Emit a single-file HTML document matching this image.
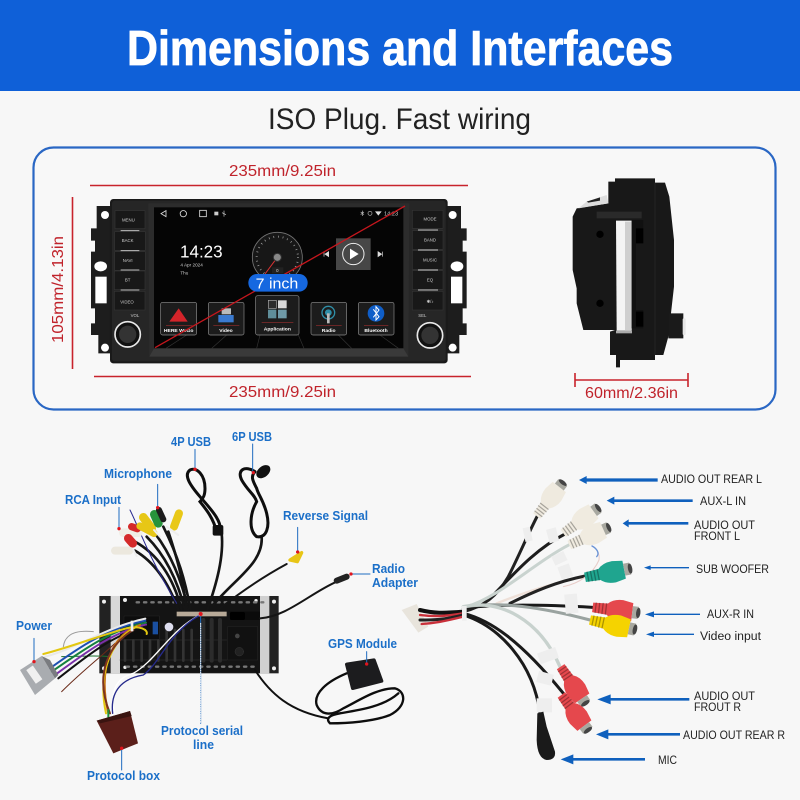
<!DOCTYPE html>
<html><head><meta charset="utf-8"><style>
html,body{margin:0;padding:0;background:#f7f7f7}
svg{display:block}
text{font-family:"Liberation Sans",sans-serif}
.b{fill:#1b6fc8;font-size:12.5px;font-weight:bold}
.k{fill:#222;font-size:11.5px}
.r{fill:#c0232b;font-size:16px}
.s{fill:#fff;font-size:15px;font-weight:bold}
</style></head><body>
<svg width="800" height="800" viewBox="0 0 800 800" xmlns="http://www.w3.org/2000/svg">
<defs>
<g id="rca">
<path d="M0 -11L34 -13Q46 -25 68 -25L92 -21V21L68 25Q46 25 34 13L0 11Z" fill="currentColor"/>
<path d="M7 -11V11M15 -11V11M23 -12V12M31 -12V12" stroke="#000" stroke-opacity=".3" stroke-width="3"/>
<rect x="92" y="-14" width="14" height="28" fill="#a8a8a0"/>
<ellipse cx="106" cy="0" rx="5" ry="12" fill="#444"/>
</g>
<g id="ear">
<path d="M100 78H50V145H33V182H45V215H33V385H45V430H33V465H55V520H100Z" fill="#1d1d1d"/>
<circle cx="75" cy="105" r="12" fill="#fff"/>
<circle cx="75" cy="503" r="12" fill="#fff"/>
<ellipse cx="62" cy="259" rx="19" ry="15" fill="#fff"/>
<rect x="46" y="290" width="34" height="80" fill="#fff"/>
</g>
</defs>

<rect width="800" height="800" fill="#f7f7f7"/>
<rect width="800" height="91" fill="#0f60d8"/>
<text x="127" y="65" textLength="546" lengthAdjust="spacingAndGlyphs" font-size="49" font-weight="bold" fill="#fff" stroke="#fff" stroke-width=".8">Dimensions and Interfaces</text>
<text x="268" y="129" textLength="263" lengthAdjust="spacingAndGlyphs" font-size="30" fill="#222">ISO Plug. Fast wiring</text>
<rect x="33.5" y="147.5" width="742" height="262" rx="20" fill="#f8f8f8" stroke="#2a67c4" stroke-width="2.2"/>

<!-- dimensions -->
<line x1="90" y1="185.5" x2="468" y2="185.5" stroke="#c8232c" stroke-width="1.6"/>
<line x1="94" y1="376.5" x2="471" y2="376.5" stroke="#c8232c" stroke-width="1.6"/>
<line x1="72.5" y1="197" x2="72.5" y2="369" stroke="#c8232c" stroke-width="1.6"/>
<text class="r" x="229" y="176" textLength="107" lengthAdjust="spacingAndGlyphs">235mm/9.25in</text>
<text class="r" x="229" y="397" textLength="107" lengthAdjust="spacingAndGlyphs">235mm/9.25in</text>
<text class="r" transform="translate(63,343) rotate(-90)" textLength="107" lengthAdjust="spacingAndGlyphs">105mm/4.13in</text>
<path d="M575 380H688M575 373V387M688 373V387" stroke="#c8232c" stroke-width="1.6" fill="none"/>
<text class="r" x="585" y="398" textLength="93" lengthAdjust="spacingAndGlyphs">60mm/2.36in</text>

<!-- head unit -->
<g transform="translate(80,180) scale(.33333)">
<use href="#ear"/>
<use href="#ear" transform="translate(1193,0) scale(-1,1)"/>
<rect x="90" y="57" width="1013" height="493" rx="10" fill="#1a1a1a"/>
<rect x="96" y="62" width="1001" height="482" rx="8" fill="#262626"/>
<path d="M205 70H988L985 530H208Z" fill="#2c2c2c"/>
<rect x="222" y="82" width="748" height="423" fill="#050505"/>
<path d="M222 505H970L985 530H208Z" fill="#3a3a3a"/>
<g fill="#181818" stroke="#333" stroke-width="2">
<rect x="105" y="92" width="90" height="54"/><rect x="104" y="155" width="92" height="56"/><rect x="104" y="215" width="92" height="56"/><rect x="103" y="273" width="92" height="56"/><rect x="103" y="334" width="92" height="56"/>
<rect x="997" y="91" width="92" height="54"/><rect x="997" y="152" width="92" height="56"/><rect x="997" y="212" width="92" height="56"/><rect x="997" y="272" width="92" height="56"/><rect x="997" y="334" width="92" height="56"/>
</g>
<path d="M122 152H178M122 212H178M122 270H178M122 330H178M1014 150H1074M1014 210H1074M1014 270H1074M1014 330H1074" stroke="#bbb" stroke-width="3"/>
<g font-size="13" fill="#ccc" text-anchor="middle">
<text x="145" y="124">MENU</text><text x="143" y="186">BACK</text><text x="143" y="246">NAVI</text><text x="143" y="305">BT</text><text x="141" y="370">VIDEO</text>
<text x="1050" y="121">MODE</text><text x="1050" y="184">BAND</text><text x="1050" y="244">MUSIC</text><text x="1050" y="305">EQ</text><text x="1050" y="369">&#10033;/&#9834;</text>
<text x="165" y="411">VOL</text><text x="1027" y="411">SEL</text>
</g>
<circle cx="143" cy="463" r="38" fill="#111" stroke="#e8e8e8" stroke-width="5"/>
<circle cx="143" cy="463" r="26" fill="#333"/>
<circle cx="1050" cy="466" r="38" fill="#111" stroke="#e8e8e8" stroke-width="5"/>
<circle cx="1050" cy="466" r="26" fill="#333"/>
<!-- status -->
<path d="M258 92L243 101L258 110Z" fill="none" stroke="#ddd" stroke-width="2.5"/>
<circle cx="310" cy="101" r="9.5" fill="none" stroke="#ddd" stroke-width="2.5"/>
<rect x="359" y="91" width="20" height="19" fill="none" stroke="#ddd" stroke-width="2.5"/>
<rect x="403" y="95" width="12" height="11" fill="#ccc"/>
<path d="M432 92V110M426 98L438 104" stroke="#ccc" stroke-width="2"/>
<path d="M847 92V108M842 96L852 104M842 104L852 96" stroke="#bbb" stroke-width="2"/>
<circle cx="870" cy="100" r="6" fill="none" stroke="#bbb" stroke-width="2"/>
<path d="M885 94H905L895 107Z" fill="#ddd"/>
<text x="912" y="107" font-size="17" fill="#ccc">14:23</text>
<text x="300" y="232" font-size="52" fill="#fff" textLength="128" lengthAdjust="spacingAndGlyphs">14:23</text>
<text x="301" y="259" font-size="14" fill="#ccc">4 Apr 2024</text>
<text x="301" y="284" font-size="14" fill="#ccc">Thu</text>
<!-- gauge -->
<circle cx="592" cy="232" r="75" fill="#171717" stroke="#777" stroke-width="2.5"/>
<circle cx="592" cy="232" r="62" fill="none" stroke="#aaa" stroke-width="6" stroke-dasharray="2 12"/>
<path d="M555 282L592 232" stroke="#d33" stroke-width="3"/>
<circle cx="592" cy="232" r="12" fill="#888" stroke="#333" stroke-width="3"/>
<rect x="576" y="262" width="34" height="18" fill="#222"/>
<text x="592" y="276" font-size="13" fill="#ddd" text-anchor="middle">0</text>
<!-- music -->
<rect x="768" y="175" width="104" height="95" fill="#474747"/>
<circle cx="820" cy="222" r="32" fill="none" stroke="#eee" stroke-width="3"/>
<path d="M810 206L836 222L810 238Z" fill="#fff"/>
<path d="M732 215V230M746 215L735 222.5L746 230Z M908 215V230M894 215L905 222.5L894 230Z" fill="#ddd" stroke="#ddd" stroke-width="2"/>
<!-- floor -->
<path d="M320 465L258 505M440 465L395 505M540 465L530 505M655 465L672 505M775 465L815 505M900 465L955 505" stroke="#333" stroke-width="2"/>
<!-- apps -->
<g stroke="#8a8a8a" stroke-width="2" fill="#1c1c1c">
<rect x="242" y="367" width="108" height="98" rx="6"/><rect x="385" y="367" width="107" height="98" rx="6"/><rect x="527" y="347" width="130" height="118" rx="6"/><rect x="693" y="367" width="107" height="98" rx="6"/><rect x="835" y="367" width="107" height="98" rx="6"/>
</g>
<path d="M296 385L323 425H268Z" fill="#d3242a"/>
<rect x="415" y="405" width="46" height="22" fill="#3b7ad0"/>
<rect x="425" y="385" width="28" height="18" fill="#bbb"/>
<rect x="565" y="361" width="24" height="24" fill="#2c2c2c" stroke="#aaa" stroke-width="2"/>
<rect x="594" y="361" width="26" height="24" fill="#d8d8d8"/>
<rect x="564" y="389" width="25" height="26" fill="#5f8e9a"/><rect x="594" y="389" width="26" height="26" fill="#6f9aa8"/>
<circle cx="745" cy="398" r="19" fill="none" stroke="#2f8fa8" stroke-width="4"/>
<circle cx="745" cy="398" r="10" fill="#2f8fa8"/>
<rect x="741" y="400" width="8" height="30" fill="#bbb"/>
<circle cx="888" cy="400" r="25" fill="#0f5ec8"/>
<path d="M880 388L897 410L888 420V380L897 390L880 412" fill="none" stroke="#fff" stroke-width="3"/>
<path d="M258 437H338M400 437H478M545 427H640M708 437H785M852 437H925" stroke="#b33" stroke-width="1.5"/>
<text class="s" x="296" y="456" text-anchor="middle">HERE WeGo</text>
<text class="s" x="438" y="456" text-anchor="middle">Video</text>
<text class="s" x="592" y="451" text-anchor="middle">Application</text>
<text class="s" x="746" y="456" text-anchor="middle">Radio</text>
<text class="s" x="888" y="456" text-anchor="middle">Bluetooth</text>
<!-- diagonal -->
<line x1="225" y1="503" x2="975" y2="78" stroke="#c5161d" stroke-width="4"/>
<rect x="505" y="282" width="178" height="53" rx="26" fill="#1668e0"/>
<text x="527" y="326" font-size="45" fill="#fff" textLength="128" lengthAdjust="spacingAndGlyphs">7 inch</text>
</g>

<!-- side view -->
<g transform="translate(550,160) scale(.33333)">
<path d="M175 65H195V55H315V68H345L358 110L372 240V380L355 530L340 585H315V600H210V622H198V585H180V515L195 510H100L80 430V385L68 330V170L80 145L175 130Z" fill="#181818"/>
<path d="M85 145L110 125L170 105L175 130Z" fill="#ddd"/>
<path d="M110 125L150 112V122L115 128Z" fill="#222"/>
<path d="M140 155H275V175H140Z" fill="#2a2a2a"/>
<path d="M198 182H245V512H200Z" fill="#f4f4f4"/>
<rect x="225" y="185" width="20" height="325" fill="#cfcfcf"/>
<rect x="198" y="512" width="48" height="8" fill="#aaa"/>
<path d="M245 180H280V205H258V450H280V505H245Z" fill="#111"/>
<path d="M258 205H280V250H258ZM258 455H280V500H258Z" fill="#000"/>
<circle cx="150" cy="223" r="11" fill="#000"/>
<circle cx="150" cy="430" r="11" fill="#000"/>
<path d="M315 68V585" stroke="#2c2c2c" stroke-width="2"/>
<path d="M355 460H400V535H355Z" fill="#1a1a1a"/>
<rect x="398" y="475" width="9" height="50" rx="3" fill="#e6e6e6"/>
</g>

<!-- left harness, zoom coords -->
<g transform="translate(0,430) scale(.33333)" fill="none" stroke-linecap="round">
<!-- unit -->
<rect x="298" y="498" width="538" height="232" fill="#222"/>
<rect x="332" y="498" width="28" height="232" fill="#d8d8d8"/>
<rect x="780" y="498" width="28" height="232" fill="#d0d0d0"/>
<rect x="360" y="498" width="420" height="230" fill="#141414"/>
<g fill="#eee" stroke="none"><circle cx="312" cy="515" r="6"/><circle cx="312" cy="715" r="6"/><circle cx="822" cy="515" r="6"/><circle cx="822" cy="715" r="6"/><circle cx="375" cy="510" r="6"/><circle cx="375" cy="712" r="5"/><circle cx="768" cy="512" r="5"/></g>
<path d="M410 517H790M380 710H770" stroke="#777" stroke-width="7" stroke-dasharray="7 15"/>
<path d="M360 630H680M360 690H680" stroke="#2a2a2a" stroke-width="2"/>
<path d="M375 632V692M400 632V692M425 632V692M450 632V692M475 632V692M500 600V692M525 600V692M550 600V692M575 600V692" stroke="#333" stroke-width="8"/>
<path d="M610 570V692M635 570V692M660 570V692" stroke="#2c2c2c" stroke-width="12"/>
<rect x="372" y="558" width="106" height="70" fill="#0d0d0d" stroke="#333"/>
<rect x="458" y="575" width="16" height="38" fill="#1a4fa0" stroke="none"/>
<circle cx="507" cy="591" r="13" fill="#dde" stroke="none"/>
<rect x="530" y="545" width="150" height="14" fill="#b8aa98" stroke="none"/>
<rect x="683" y="590" width="90" height="100" fill="#111" stroke="#333"/>
<circle cx="712" cy="618" r="7" fill="#444" stroke="none"/>
<circle cx="718" cy="665" r="13" fill="#222" stroke="#444"/>
<path d="M690 545H780V570H690Z" fill="#0b0b0b" stroke="none"/>
<rect x="690" y="546" width="45" height="24" rx="6" fill="#000" stroke="none"/>
<!-- RCA wires -->
<g stroke="#151515" stroke-width="8">
<path d="M535 540C510 470 470 400 405 362"/>
<path d="M545 540C520 440 470 370 405 335"/>
<path d="M555 540C530 440 490 370 440 320"/>
<path d="M565 540C545 450 510 370 465 310"/>
<path d="M572 540C555 450 535 380 490 290"/>
<path d="M560 540C550 450 530 380 505 305"/>
</g>
<path d="M390 240C420 300 440 370 530 520" stroke="#2a2a90" stroke-width="3"/>
<!-- USB cables -->
<path d="M622 540C650 460 672 380 665 310" stroke="#151515" stroke-width="8"/>
<path d="M640 525C700 450 790 400 785 322" stroke="#151515" stroke-width="8"/>
<path d="M660 535C730 480 790 440 860 402" stroke="#151515" stroke-width="6"/>
<path d="M780 565C860 560 930 490 1010 455" stroke="#151515" stroke-width="6"/>
<path d="M660 310C670 275 630 235 600 200C570 165 550 135 570 120C590 110 615 135 615 175C615 195 610 205 600 215C620 240 640 265 650 305" stroke="#0e0e0e" stroke-width="9"/>
<path d="M765 125C735 105 710 120 725 150C745 185 765 195 770 215C750 250 745 300 770 320C800 325 810 290 800 250C790 210 775 195 770 175C760 155 750 140 765 125" stroke="#0e0e0e" stroke-width="9"/>
<rect x="638" y="285" width="32" height="32" rx="6" fill="#111" stroke="none"/>
<ellipse cx="790" cy="125" rx="24" ry="16" transform="rotate(-40 790 125)" fill="#111" stroke="none"/>
<!-- RCA plugs -->
<g stroke-width="26">
<path d="M388 362H345" stroke="#ece8de" stroke-width="24"/>
<path d="M415 308H370" stroke="#f0eee6" stroke-width="26"/>
<path d="M412 296L395 290" stroke="#d42a2a" stroke-width="22"/>
<path d="M398 340L385 325" stroke="#d42a2a" stroke-width="26"/>
<path d="M462 310L420 288" stroke="#e7c716" stroke-width="22"/>
<path d="M455 295L430 262" stroke="#e7c716" stroke-width="26"/>
<path d="M475 280L463 253" stroke="#27933b" stroke-width="26"/>
<path d="M490 268L477 240" stroke="#1c1c1c" stroke-width="18"/>
<path d="M522 290L537 250" stroke="#e9c817" stroke-width="24"/>
</g>
<path d="M400 360L410 378M462 300L480 320M500 290L535 315" stroke="#eee" stroke-width="6"/>
<path d="M870 390L905 368L892 395Z" fill="#e8c516" stroke="#e8c516" stroke-width="10" stroke-linejoin="round"/>
<path d="M1010 452L1040 440" stroke="#222" stroke-width="18"/>
<!-- power -->
<path d="M190 650C195 610 230 600 280 605" stroke="#999" stroke-width="3"/>
<path d="M185 680C240 680 280 675 330 680" stroke="#1c6f2c" stroke-width="3"/>
<path d="M185 785C240 730 280 700 345 640" stroke="#6a2a18" stroke-width="3"/>
<g stroke-width="6">
<path d="M150 715C240 650 320 595 436 572" stroke="#1d4fb0"/>
<path d="M155 725C250 660 330 600 438 578" stroke="#15803d"/>
<path d="M165 735C260 665 340 605 438 584" stroke="#7a2fa8"/>
<path d="M175 745C270 670 340 615 436 590" stroke="#111"/>
<path d="M135 680C220 660 320 590 436 566" stroke="#e9e9e9"/>
<path d="M130 672C200 655 320 610 380 595C420 585 445 600 440 612" stroke="#e3c710"/>
<path d="M420 585C345 610 290 700 325 850" stroke="#c96d14"/>
<path d="M410 590C340 625 290 720 318 850" stroke="#e3c710"/>
<path d="M400 600C330 640 280 730 330 850" stroke="#7a3320"/>
<path d="M325 840V870" stroke="#1c8f3c"/>
</g>
<path d="M600 555C510 600 470 690 400 730C340 745 330 800 345 850" stroke="#fff" stroke-width="4"/>
<path d="M595 558C505 610 480 700 430 735C370 745 330 780 338 850" stroke="#262a8c" stroke-width="4"/>
<rect x="392" y="572" width="8" height="32" fill="#eee" stroke="none"/>
<path d="M60 720L125 678L165 745L105 795Z" fill="#a9acb0" stroke="none"/>
<path d="M125 678L150 690L175 735L165 745Z" fill="#7a7c80" stroke="none"/>
<rect x="78" y="722" width="50" height="24" fill="#f0f0f0" stroke="none" transform="rotate(55 103 734)"/>
<!-- box -->
<path d="M290 872L390 843L414 940L340 970Z" fill="#5b1f1a" stroke="none"/>
<path d="M290 872L390 843L395 858L300 880Z" fill="#3a1410" stroke="none"/>
<!-- GPS -->
<path d="M765 720C810 790 870 845 985 865" stroke="#101010" stroke-width="6"/>
<path d="M1040 730C980 755 940 790 950 825C965 860 1000 855 1030 835C1080 810 1130 775 1185 775C1220 785 1220 830 1170 855C1120 875 1040 880 990 880C975 865 990 855 1020 850C1080 840 1150 830 1195 790" stroke="#0d0d0d" stroke-width="7"/>
<path d="M1040 703L1122 690L1145 753L1058 775Z" fill="#1c1c1e" stroke="#1c1c1e" stroke-width="10" stroke-linejoin="round"/>
<!-- pointers -->
<g stroke="#1f6cc0" stroke-width="3">
<path d="M585 58V115M758 42V125M473 163V232M357 232V295M893 292V365M1110 432H1055M102 625V692M1100 665V700M602 560V880M365 955V1020" />
</g>
<path d="M602 580V880" stroke="#f7f7f7" stroke-width="3" stroke-dasharray="3 4"/>
<g fill="#e0151d" stroke="none">
<circle cx="585" cy="118" r="5"/><circle cx="760" cy="128" r="5"/><circle cx="473" cy="233" r="5"/><circle cx="357" cy="296" r="5"/><circle cx="893" cy="366" r="5"/><circle cx="1053" cy="432" r="5"/><circle cx="102" cy="695" r="5"/><circle cx="1100" cy="702" r="5"/><circle cx="602" cy="552" r="6"/><circle cx="365" cy="955" r="5"/>
</g>
</g>

<!-- right harness -->
<g transform="translate(400,450) scale(.33333)" fill="none" stroke-linecap="round">
<path d="M5 480L50 462L85 530L55 548Z" fill="#e8e4dc" stroke="none"/>
<g stroke-width="7">
<path d="M60 480C100 490 130 490 190 485" stroke="#111" stroke-width="12"/>
<path d="M60 495C100 500 130 500 190 490" stroke="#c9303a"/>
<path d="M60 510C100 510 130 510 190 495" stroke="#222" stroke-width="9"/>
<path d="M65 522C100 520 130 515 190 500" stroke="#c9303a"/>
</g>
<path d="M190 485C250 470 290 440 325 380C360 310 385 250 412 198" stroke="#222" stroke-width="9"/>
<path d="M270 445C330 385 400 300 495 252" stroke="#1d1d1d" stroke-width="9"/>
<path d="M200 470C300 440 400 340 510 283" stroke="#c9d3cf" stroke-width="9"/>
<path d="M290 460C380 425 470 395 555 380" stroke="#eee0d8" stroke-width="7"/>
<path d="M330 460C400 425 470 395 555 378" stroke="#222" stroke-width="9"/>
<path d="M190 475C300 460 450 465 578 472" stroke="#1a1a1a" stroke-width="9"/>
<path d="M200 470C300 455 420 470 570 510" stroke="#9aa3a0" stroke-width="9"/>
<path d="M190 470C300 445 420 510 480 650" stroke="#c8d2ce" stroke-width="10"/>
<path d="M190 490C270 510 360 570 490 730" stroke="#1a1a1a" stroke-width="9"/>
<path d="M190 495C300 530 400 640 420 790" stroke="#1a1a1a" stroke-width="9"/>
<path d="M490 410C540 400 580 370 597 330C600 310 590 295 576 288" stroke="#e8ccc8" stroke-width="3"/>
<path d="M590 320C600 310 590 295 576 288" stroke="#6a93d6" stroke-width="4"/>
<rect x="186" y="468" width="14" height="44" fill="#eee" stroke="none"/>
<g fill="#eee" stroke="none">
<rect x="372" y="232" width="22" height="42" transform="rotate(-12 383 253)"/>
<rect x="443" y="235" width="30" height="42" transform="rotate(-15 458 256)"/>
<rect x="458" y="310" width="40" height="30" transform="rotate(-25 478 325)"/>
<rect x="478" y="345" width="36" height="40" transform="rotate(-20 496 365)"/>
<rect x="495" y="432" width="38" height="58" transform="rotate(-5 514 460)"/>
<rect x="415" y="600" width="58" height="34" transform="rotate(-20 444 617)"/>
<rect x="412" y="668" width="46" height="34" transform="rotate(15 435 685)"/>
<rect x="410" y="745" width="46" height="42"/>
</g>
<use href="#rca" transform="translate(410,198) rotate(-52) scale(1.2)" color="#efeadf" stroke="none"/>
<use href="#rca" transform="translate(490,250) rotate(-36) scale(1.22)" color="#f0ebe0" stroke="none"/>
<use href="#rca" transform="translate(508,285) rotate(-24) scale(1.22)" color="#f0ebe0" stroke="none"/>
<use href="#rca" transform="translate(555,382) rotate(-11) scale(1.3)" color="#1fa58f" stroke="none"/>
<use href="#rca" transform="translate(578,472) rotate(7) scale(1.3)" color="#e5484d" stroke="none"/>
<use href="#rca" transform="translate(570,510) rotate(12) scale(1.3)" color="#f5d300" stroke="none"/>
<use href="#rca" transform="translate(482,650) rotate(56) scale(1.25)" color="#e5484d" stroke="none"/>
<use href="#rca" transform="translate(484,735) rotate(53) scale(1.25)" color="#e5484d" stroke="none"/>
<path d="M412 790L430 785L440 830L465 905Q468 930 440 930Q412 925 410 870Z" fill="#1a1a1a" stroke="none"/>
<!-- arrows -->
<g fill="#0f60bd" stroke="none">
<path d="M558 85H773V95H558ZM537 90L560 78V102Z"/>
<path d="M640 148H878V156H640ZM620 152L643 140V164Z"/>
<path d="M685 216H865V224H685ZM668 220L686 208V232Z"/>
<path d="M750 351H867V355H750ZM732 353L752 346V360Z"/>
<path d="M755 491H900V495H755ZM735 493L762 484V502Z"/>
<path d="M760 551H882V555H760ZM738 553L762 545V561Z"/>
<path d="M630 744H868V752H630ZM592 748L632 733V763Z"/>
<path d="M622 849H840V857H622ZM588 853L625 838V868Z"/>
<path d="M518 924H735V932H518ZM482 928L520 913V943Z"/>
</g>
</g>

<!-- blue labels -->
<text class="b" x="171" y="446" textLength="40" lengthAdjust="spacingAndGlyphs">4P USB</text>
<text class="b" x="232" y="441" textLength="40" lengthAdjust="spacingAndGlyphs">6P USB</text>
<text class="b" x="104" y="478" textLength="68" lengthAdjust="spacingAndGlyphs">Microphone</text>
<text class="b" x="65" y="504" textLength="56" lengthAdjust="spacingAndGlyphs">RCA Input</text>
<text class="b" x="283" y="520" textLength="85" lengthAdjust="spacingAndGlyphs">Reverse Signal</text>
<text class="b" x="372" y="573" textLength="33" lengthAdjust="spacingAndGlyphs">Radio</text>
<text class="b" x="372" y="587" textLength="46" lengthAdjust="spacingAndGlyphs">Adapter</text>
<text class="b" x="16" y="630" textLength="36" lengthAdjust="spacingAndGlyphs">Power</text>
<text class="b" x="328" y="648" textLength="69" lengthAdjust="spacingAndGlyphs">GPS Module</text>
<text class="b" x="161" y="735" textLength="82" lengthAdjust="spacingAndGlyphs">Protocol serial</text>
<text class="b" x="193" y="749" textLength="21" lengthAdjust="spacingAndGlyphs">line</text>
<text class="b" x="87" y="780" textLength="73" lengthAdjust="spacingAndGlyphs">Protocol box</text>

<!-- black labels -->
<text class="k" x="661" y="483" textLength="101" lengthAdjust="spacingAndGlyphs">AUDIO OUT REAR L</text>
<text class="k" x="700" y="505" textLength="46" lengthAdjust="spacingAndGlyphs">AUX-L IN</text>
<text class="k" x="694" y="529" textLength="61" lengthAdjust="spacingAndGlyphs">AUDIO OUT</text>
<text class="k" x="694" y="540" textLength="46" lengthAdjust="spacingAndGlyphs">FRONT L</text>
<text class="k" x="696" y="573" textLength="73" lengthAdjust="spacingAndGlyphs">SUB WOOFER</text>
<text class="k" x="707" y="618" textLength="47" lengthAdjust="spacingAndGlyphs">AUX-R IN</text>
<text class="k" x="700" y="640" textLength="61" lengthAdjust="spacingAndGlyphs">Video input</text>
<text class="k" x="694" y="700" textLength="61" lengthAdjust="spacingAndGlyphs">AUDIO OUT</text>
<text class="k" x="694" y="711" textLength="47" lengthAdjust="spacingAndGlyphs">FROUT R</text>
<text class="k" x="683" y="739" textLength="102" lengthAdjust="spacingAndGlyphs">AUDIO OUT REAR R</text>
<text class="k" x="658" y="764" textLength="19" lengthAdjust="spacingAndGlyphs">MIC</text>
</svg>
</body></html>
